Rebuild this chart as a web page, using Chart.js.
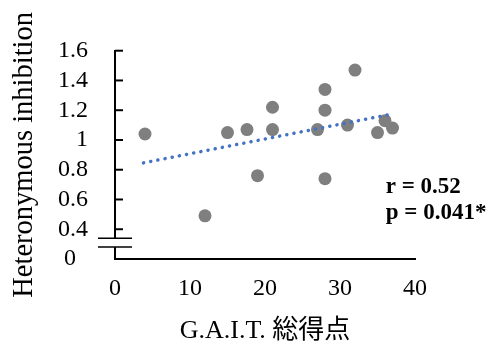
<!DOCTYPE html>
<html>
<head>
<meta charset="utf-8">
<script src="https://cdn.jsdelivr.net/npm/chart.js@4.4.1/dist/chart.umd.min.js"></script>
<style>
  html, body { margin: 0; padding: 0; background: #fff; }
  canvas { display: block; }
</style>
</head>
<body>
<canvas id="myChart" width="497" height="349"></canvas>
<script>
// data
const gaitScore = [4, 12, 15, 17.6, 19, 21, 21, 27, 28, 28, 28, 31, 32, 35, 36, 37]
const heteroInhibition = [1.04, 0.49, 1.05, 1.07, 0.76, 1.22, 1.07, 1.07, 1.34, 1.20, 0.74, 1.10, 1.47, 1.05, 1.13, 1.08]

// trendline end points
const trendX = [3.8, 36.7]
const trendY = [0.846, 1.172]

// axis labels
const yTickLabels = ['0\u2002', '0.4', '0.6', '0.8', '1', '1.2', '1.4', '1.6']
const statLines = ['r = 0.52', 'p = 0.041*']

// layout / style constants
const yMin = 0.2
const yMax = 1.6
const breakTop = 0.34
const breakBottom = 0.28
const statX = 36.1
const statY = [0.646, 0.471]
const serif = "'Liberation Serif', 'Noto Sans CJK JP', serif"

Chart.defaults.font.family = serif
Chart.defaults.color = '#000'

const axisExtras = {
    id: 'axisExtras',
    afterDraw(chart){
        const {ctx, scales: {x, y}} = chart
        ctx.save()
        ctx.strokeStyle = '#000'
        ctx.lineWidth = 2

        // tick marks inside the plot
        y.ticks.forEach(t => {
            if (t.value <= yMin + 1e-6) return
            const py = y.getPixelForValue(t.value)
            ctx.beginPath()
            ctx.moveTo(x.left, py)
            ctx.lineTo(x.left + 8, py)
            ctx.stroke()
        })

        // axis break
        const b1 = y.getPixelForValue(breakTop)
        const b2 = y.getPixelForValue(breakBottom)
        ctx.fillStyle = '#fff'
        ctx.fillRect(x.left - 3, b1, 6, b2 - b1)
        ctx.lineWidth = 1.5
        ;[b1, b2].forEach(py => {
            ctx.beginPath()
            ctx.moveTo(x.left - 17, py)
            ctx.lineTo(x.left + 17, py)
            ctx.stroke()
        })

        // statistics
        ctx.fillStyle = '#000'
        ctx.font = 'bold 23px ' + serif
        ctx.textAlign = 'left'
        ctx.textBaseline = 'alphabetic'
        statLines.forEach((s, i) => {
            ctx.fillText(s, x.getPixelForValue(statX), y.getPixelForValue(statY[i]))
        })
        ctx.restore()
    }
}

const points = gaitScore.map((v, i) => ({x: v, y: heteroInhibition[i]}))
const trend = trendX.map((v, i) => ({x: v, y: trendY[i]}))

const config = {
    type: 'scatter',
    data: {
        datasets: [{
            type: 'line',
            data: trend,
            borderColor: '#4472C4',
            borderWidth: 3.5,
            borderDash: [0.1, 7.2],
            borderCapStyle: 'round',
            pointRadius: 0,
            fill: false
        },
        {
            data: points,
            backgroundColor: '#7f7f7f',
            borderWidth: 0,
            pointRadius: 6.5
        }]
    },
    options: {
        responsive: false,
        animation: false,
        layout: {padding: {left: 0, right: 82, top: 50.7, bottom: 0}},
        plugins: {legend: {display: false}, tooltip: {enabled: false}},
        scales: {
            x: {
                type: 'linear',
                min: 0,
                max: 40,
                ticks: {stepSize: 10, autoSkip: false, color: '#000', padding: 15, font: {size: 24}},
                grid: {display: false, drawTicks: false},
                border: {display: true, color: '#000', width: 2},
                title: {display: true, text: 'G.A.I.T. 総得点', color: '#000', padding: {top: 0, bottom: 2}, font: {size: 26}},
                afterFit: s => { s.height = 90 }
            },
            y: {
                min: yMin,
                max: yMax,
                ticks: {stepSize: 0.2, autoSkip: false, color: '#000', padding: 27, font: {size: 24},
                        callback: (v, i) => yTickLabels[i]},
                grid: {display: false, drawTicks: false},
                border: {display: true, color: '#000', width: 2},
                title: {display: true, text: 'Heteronymous inhibition', color: '#000', padding: {top: 7, bottom: 0}, font: {size: 28.5}},
                afterFit: s => { s.width = 115 }
            }
        }
    },
    plugins: [axisExtras]
}

const myChart = new Chart(document.getElementById('myChart'), config)
</script>
</body>
</html>
